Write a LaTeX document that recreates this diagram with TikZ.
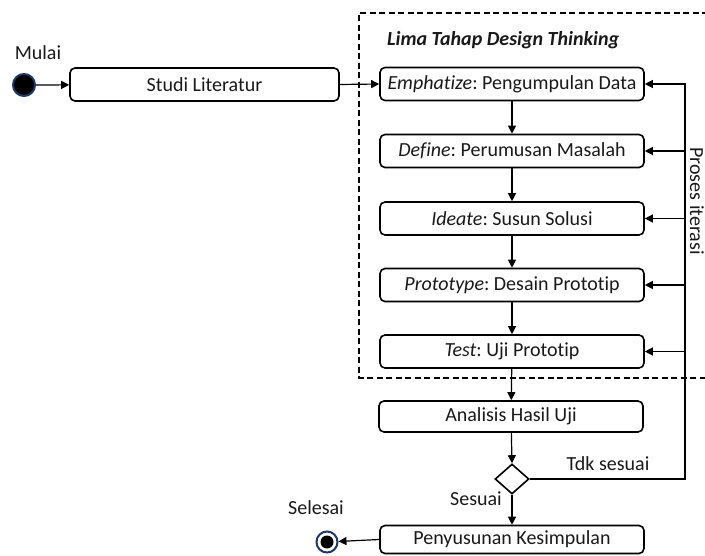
\documentclass[tikz,border=0pt]{standalone}
\usepackage{fontspec}
\setmainfont{Carlito}[Ligatures={NoCommon}]
\usetikzlibrary{arrows.meta,shapes.geometric,calc}
\definecolor{navy}{HTML}{1F3864}
\frenchspacing
\begin{document}
\begin{tikzpicture}[x=1pt,y=-1pt,
  every node/.style={font=\fontsize{20}{22}\selectfont, text=black!90},
  box/.style={draw, line width=1.6pt, rounded corners=5pt, minimum width=264pt, minimum height=33pt, inner sep=0pt},
  conn/.style={line width=1.2pt, -{Triangle[length=8pt,width=8pt]}},
  lbl/.style={inner sep=0pt}
]
\useasboundingbox (0,0) rectangle (705,556);
% dashed frame
\draw[line width=1.7pt, dash pattern=on 6pt off 3.5pt] (708,13) -- (359,13) -- (359,378) -- (708,378);
\node[lbl, font=\fontsize{20}{22}\selectfont\bfseries\itshape, anchor=west] (title) at (387,40) {Lima Tahap Design Thinking};

% start
\node[circle, fill=black, draw=navy, line width=2pt, minimum size=22pt, inner sep=0pt] (start) at (24,85) {};
\node[lbl] (mulai) at (38,53) {Mulai};
\node[box, minimum width=269pt] (studi) at (204.5,84.5) {Studi Literatur};

% five stages
\node[box] (emph) at (512,84) {\textit{Emphatize}: Pengumpulan Data};
\node[box] (def) at (512,151) {\textit{Define}: Perumusan Masalah};
\node[box] (ide) at (512,218.5) {\textit{Ideate}: Susun Solusi};
\node[box] (pro) at (512,285) {\textit{Prototype}: Desain Prototip};
\node[box] (tes) at (512,351.5) {\textit{Test}: Uji Prototip};
\node[box, minimum height=31pt] (ana) at (511,416.5) {Analisis Hasil Uji};
\node[diamond, draw, line width=1.6pt, minimum width=34pt, minimum height=30pt, inner sep=0pt] (dia) at (512,479) {};
\node[box, minimum height=28pt] (pen) at (512,539.5) {Penyusunan Kesimpulan};

% end
\node[circle, draw=navy, line width=2pt, fill=white, minimum size=21pt, inner sep=0pt,
  path picture={\fill[black] (path picture bounding box.center) circle (6.5pt);}] (end) at (327,542) {};
\node[lbl] (selesai) at (316,508) {Selesai};

% labels
\node[lbl] (sesuai) at (476,499) {Sesuai};
\node[lbl] (tdk) at (608,464) {Tdk sesuai};
\node[lbl, rotate=-90] (iter) at (697,201) {Proses iterasi};

% connectors
\draw[conn] (start) -- (studi);
\draw[conn] (studi.east) -- (emph.west);
\draw[conn] (emph) -- (def);
\draw[conn] (def) -- (ide);
\draw[conn] (ide) -- (pro);
\draw[conn] (pro) -- (tes);
\draw[conn] (tes) -- (ana);
\draw[conn] (ana) -- (dia.north);
\draw[conn] (dia.south) -- (pen);
\draw[conn] (pen.west) -- (end);

\coordinate (fbx) at (685,0);
\draw[conn] (dia.east) -- (dia.east -| fbx) -- (emph.east -| fbx) -- (emph.east);
\draw[conn] (def.east -| fbx) -- (def.east);
\draw[conn] (ide.east -| fbx) -- (ide.east);
\draw[conn] (pro.east -| fbx) -- (pro.east);
\draw[conn] (tes.east -| fbx) -- (tes.east);
\end{tikzpicture}
\end{document}
